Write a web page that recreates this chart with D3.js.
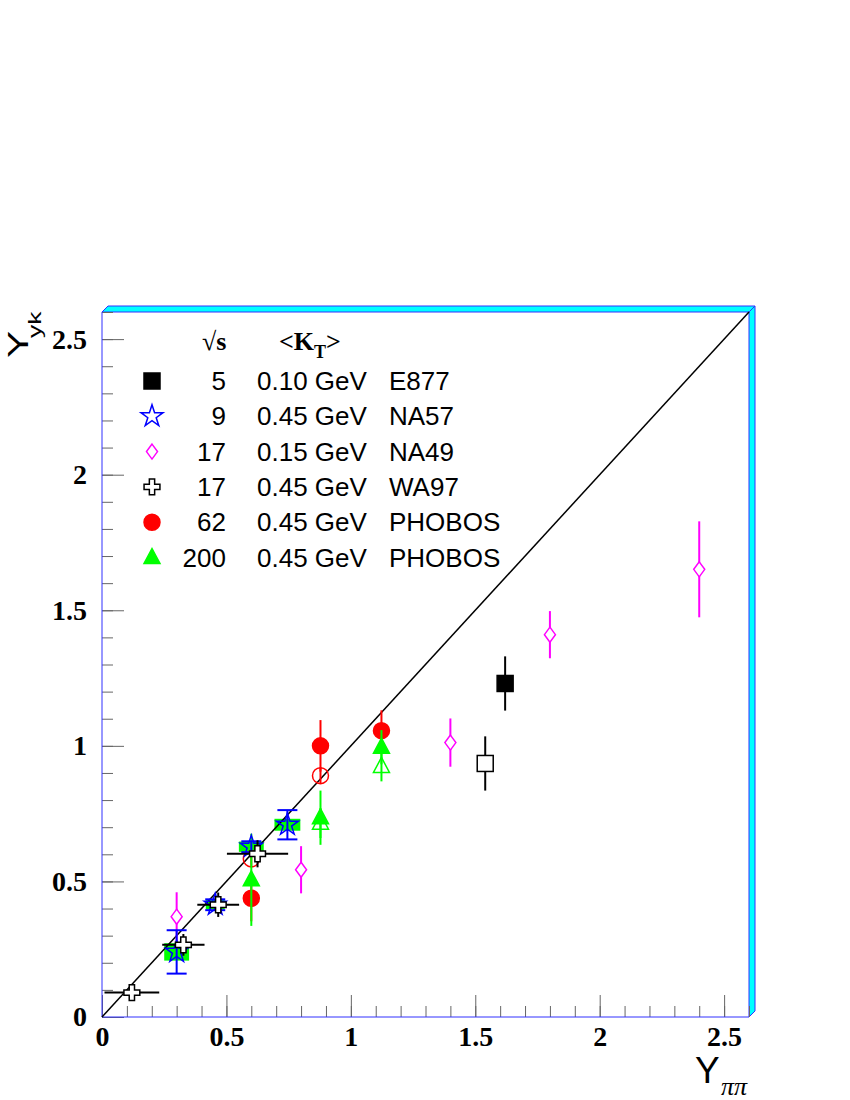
<!DOCTYPE html>
<html>
<head>
<meta charset="utf-8">
<script src="https://cdn.jsdelivr.net/npm/d3@7"></script>
<style>
  body { margin: 0; background: #fff; }
</style>
</head>
<body>
<div id="wrapper"></div>
<script>
// values
const e877X = [1.62], e877Y = [1.23], e877Err = [0.10];
const e877OpenX = [1.54], e877OpenY = [0.935], e877OpenErr = [0.10];

const na57X = [0.30, 0.455, 0.60, 0.745];
const na57Y = [0.24, 0.414, 0.628, 0.709];
const na57Err = [0.08, 0.02, 0.02, 0.054];
// green boxes behind the NA57 stars (half widths)
const boxDx = [0.05, 0.038, 0.05, 0.052];
const boxDy = [0.032, 0.017, 0.019, 0.022];

const na49X = [0.30, 0.80, 1.40, 1.80, 2.40];
const na49Y = [0.37, 0.543, 1.012, 1.41, 1.651];
const na49Err = [0.09, 0.087, 0.089, 0.087, 0.177];

const wa97X = [0.12, 0.327, 0.467, 0.625];
const wa97Y = [0.09, 0.266, 0.414, 0.602];
const wa97ErrX = [0.11, 0.085, 0.084, 0.123];
const wa97ErrY = [0.0, 0.04, 0.045, 0.05];

const pho62X = [0.60, 0.878, 1.123];
const pho62Y = [0.438, 1.0, 1.056];
const pho62Err = [0.085, 0.095, 0.075];
const pho62OpenX = [0.60, 0.878];
const pho62OpenY = [0.583, 0.89];
const pho62OpenErr = [0.03, 0.03];

const pho200X = [0.60, 0.878, 1.123];
const pho200Y = [0.506, 0.735, 0.995];
const pho200Err = [0.17, 0.1, 0.063];
const pho200OpenX = [0.878, 1.123];
const pho200OpenY = [0.715, 0.924];
const pho200OpenErr = [0.055, 0.055];

const legendSqrtS = ["5", "9", "17", "17", "62", "200"];
const legendKt = ["0.10 GeV", "0.45 GeV", "0.15 GeV", "0.45 GeV", "0.45 GeV", "0.45 GeV"];
const legendName = ["E877", "NA57", "NA49", "WA97", "PHOBOS", "PHOBOS"];
const legendKind = ["squareFilled", "star", "diamond", "cross", "circleFilled", "triFilled"];

const xMajor = [0, 0.5, 1, 1.5, 2, 2.5];
const yMajor = [0, 0.5, 1, 1.5, 2, 2.5];

var dimension = {
    width: 850,
    height: 1100,
    margin: { top: 312, left: 102, right: 101, bottom: 83 }
};
dimension.boundedWidth = dimension.width - dimension.margin.left - dimension.margin.right;
dimension.boundedHeight = dimension.height - dimension.margin.top - dimension.margin.bottom;

const svg = d3.select("#wrapper").append("svg")
    .attr("width", dimension.width)
    .attr("height", dimension.height);

const scaleX = d3.scaleLinear()
    .domain([0, 2.6])
    .range([dimension.margin.left, dimension.margin.left + dimension.boundedWidth]);
const scaleY = d3.scaleLinear()
    .domain([0, 2.6])
    .range([dimension.margin.top + dimension.boundedHeight, dimension.margin.top]);

const x0 = scaleX(0), x1 = scaleX(2.6), y0 = scaleY(0), y1 = scaleY(2.6);
const depth = 6;

// cyan 3D-ish frame on top and right
svg.append("path")
    .attr("d", `M${x0},${y1} L${x0 + depth},${y1 - depth} L${x1 + depth},${y1 - depth} L${x1},${y1} Z`)
    .attr("fill", "#00ffff").attr("stroke", "#3030ff").attr("stroke-width", 1);
svg.append("path")
    .attr("d", `M${x1},${y1} L${x1 + depth},${y1 - depth} L${x1 + depth},${y0 - depth} L${x1},${y0} Z`)
    .attr("fill", "#00ffff").attr("stroke", "#3030ff").attr("stroke-width", 1);

// ticks (pointing inward)
const minorTicks = d3.range(0, 2.61, 0.1).map(d => +d.toFixed(1));
function tickGroup(axis, tr) {
    const g = svg.append("g").attr("transform", tr).call(axis);
    g.select(".domain").remove();
    g.selectAll("line").attr("stroke", "#666");
    return g;
}
tickGroup(d3.axisTop(scaleX).tickValues(minorTicks).tickSize(11).tickFormat(""), `translate(0,${y0})`);
tickGroup(d3.axisTop(scaleX).tickValues(xMajor).tickSize(22).tickFormat(""), `translate(0,${y0})`);
tickGroup(d3.axisRight(scaleY).tickValues(minorTicks).tickSize(11).tickFormat(""), `translate(${x0},0)`);
tickGroup(d3.axisRight(scaleY).tickValues(yMajor).tickSize(22).tickFormat(""), `translate(${x0},0)`);

// tick labels
const xl = svg.append("g").attr("transform", `translate(0,${y0})`)
    .call(d3.axisBottom(scaleX).tickValues(xMajor).tickSize(0).tickPadding(9).tickFormat(d => d));
xl.select(".domain").remove();
const yl = svg.append("g").attr("transform", `translate(${x0},0)`)
    .call(d3.axisLeft(scaleY).tickValues(yMajor).tickSize(0).tickPadding(15).tickFormat(d => d));
yl.select(".domain").remove();
svg.selectAll(".tick text")
    .attr("font-family", "'Liberation Serif', 'Times New Roman', serif")
    .attr("font-weight", "bold")
    .attr("font-size", "28px")
    .attr("fill", "#000");

// axis lines
svg.append("line").attr("x1", x0).attr("y1", y0).attr("x2", x0).attr("y2", y1)
    .attr("stroke", "#3030ff").attr("stroke-width", 1);
svg.append("line").attr("x1", x0).attr("y1", y0).attr("x2", x1).attr("y2", y0)
    .attr("stroke", "#3030ff").attr("stroke-width", 1);

// axis titles
const sans = "'Liberation Sans', Arial, sans-serif";
svg.append("text").attr("transform", "translate(28,358) rotate(-90) scale(1.4,1)")
    .attr("font-family", sans).attr("font-size", "29px").text("Y");
svg.append("text").attr("transform", "translate(41,338) rotate(-90) scale(1.4,1)")
    .attr("font-family", sans).attr("font-size", "19px").text("yk");
svg.append("text").attr("x", 695).attr("y", 1083)
    .attr("font-family", sans).attr("font-size", "37px").text("Y");
svg.append("text").attr("x", 721).attr("y", 1095)
    .attr("font-family", "'Liberation Serif', serif").attr("font-style", "italic")
    .attr("font-size", "26px").text("ππ");

// green boxes behind the stars
svg.append("g").selectAll("rect")
    .data(na57X.map((d, i) => ({ x: d, y: na57Y[i], dx: boxDx[i], dy: boxDy[i] })))
    .enter().append("rect")
    .attr("x", d => scaleX(d.x - d.dx))
    .attr("y", d => scaleY(d.y + d.dy))
    .attr("width", d => scaleX(d.x + d.dx) - scaleX(d.x - d.dx))
    .attr("height", d => scaleY(d.y - d.dy) - scaleY(d.y + d.dy))
    .attr("fill", "#00ff00");

// diagonal
svg.append("line")
    .attr("x1", scaleX(0)).attr("y1", scaleY(0))
    .attr("x2", scaleX(2.6)).attr("y2", scaleY(2.6))
    .attr("stroke", "#000").attr("stroke-width", 1.5);

// markers
function mark(g, kind, cx, cy) {
    const t = `translate(${cx},${cy})`;
    if (kind === "squareFilled" || kind === "squareOpen") {
        g.append("rect").attr("x", cx - 8).attr("y", cy - 8).attr("width", 16).attr("height", 16)
            .attr("fill", kind === "squareFilled" ? "#000" : "#fff")
            .attr("stroke", "#000").attr("stroke-width", 1.5);
    } else if (kind === "star") {
        g.append("path").attr("transform", t).attr("d", d3.symbol(d3.symbolStar, 150)())
            .attr("fill", "none").attr("stroke", "#0000ff").attr("stroke-width", 1.5);
    } else if (kind === "diamond") {
        g.append("path").attr("transform", t).attr("d", "M0,-7.5 L5.5,0 L0,7.5 L-5.5,0 Z")
            .attr("fill", "#fff").attr("stroke", "#ff00ff").attr("stroke-width", 1.5);
    } else if (kind === "cross") {
        g.append("path").attr("transform", t).attr("d", d3.symbol(d3.symbolCross, 140)())
            .attr("fill", "#fff").attr("stroke", "#000").attr("stroke-width", 1.5);
    } else if (kind === "circleFilled" || kind === "circleOpen") {
        g.append("circle").attr("cx", cx).attr("cy", cy).attr("r", 8)
            .attr("fill", kind === "circleFilled" ? "#ff0000" : "none")
            .attr("stroke", "#ff0000").attr("stroke-width", 1.5);
    } else if (kind === "triFilled" || kind === "triOpen") {
        g.append("path").attr("transform", t).attr("d", "M0,-9 L8,6 L-8,6 Z")
            .attr("fill", kind === "triFilled" ? "#00ff00" : "none")
            .attr("stroke", "#00ff00").attr("stroke-width", 1.5);
    }
}

const series = [
    { x: na49X, y: na49Y, ey: na49Err, kind: "diamond", color: "#ff00ff" },
    { x: e877OpenX, y: e877OpenY, ey: e877OpenErr, kind: "squareOpen", color: "#000" },
    { x: e877X, y: e877Y, ey: e877Err, kind: "squareFilled", color: "#000" },
    { x: pho62OpenX, y: pho62OpenY, ey: pho62OpenErr, kind: "circleOpen", color: "#ff0000" },
    { x: pho62X, y: pho62Y, ey: pho62Err, kind: "circleFilled", color: "#ff0000" },
    { x: pho200OpenX, y: pho200OpenY, ey: pho200OpenErr, kind: "triOpen", color: "#00ff00" },
    { x: pho200X, y: pho200Y, ey: pho200Err, kind: "triFilled", color: "#00ff00" },
    { x: na57X, y: na57Y, ey: na57Err, kind: "star", color: "#0000ff", caps: true },
    { x: wa97X, y: wa97Y, ey: wa97ErrY, ex: wa97ErrX, kind: "cross", color: "#000" }
];

const plot = svg.append("g");
series.forEach(s => {
    const g = plot.append("g");
    s.x.forEach((xv, i) => {
        const cx = scaleX(xv), cy = scaleY(s.y[i]);
        if (s.ey[i] > 0) {
            g.append("line").attr("x1", cx).attr("x2", cx)
                .attr("y1", scaleY(s.y[i] + s.ey[i])).attr("y2", scaleY(s.y[i] - s.ey[i]))
                .attr("stroke", s.color).attr("stroke-width", 2);
            if (s.caps) {
                [s.y[i] + s.ey[i], s.y[i] - s.ey[i]].forEach(v => {
                    g.append("line").attr("x1", cx - 10).attr("x2", cx + 10)
                        .attr("y1", scaleY(v)).attr("y2", scaleY(v))
                        .attr("stroke", s.color).attr("stroke-width", 2);
                });
            }
        }
        if (s.ex) {
            g.append("line").attr("y1", cy).attr("y2", cy)
                .attr("x1", scaleX(xv - s.ex[i])).attr("x2", scaleX(xv + s.ex[i]))
                .attr("stroke", s.color).attr("stroke-width", 2);
        }
        mark(g, s.kind, cx, cy);
    });
});

// legend
const legend = svg.append("g");
const serifBold = "'Liberation Serif', 'Times New Roman', serif";
const hdr = legend.append("text").attr("x", 202).attr("y", 350)
    .attr("font-family", serifBold).attr("font-size", "26px");
hdr.append("tspan").text("√");
hdr.append("tspan").attr("font-weight", "bold").text("s");
const kt = legend.append("text").attr("x", 279).attr("y", 350)
    .attr("font-family", serifBold).attr("font-size", "26px").attr("font-weight", "bold");
kt.append("tspan").text("<K");
kt.append("tspan").attr("font-size", "18px").attr("dy", 8).text("T");
kt.append("tspan").attr("dy", -8).text(">");

legendName.forEach((name, i) => {
    const cy = 381 + i * 35.3;
    mark(legend, legendKind[i], 152, cy);
    legend.append("text").attr("x", 226).attr("y", cy + 9).attr("text-anchor", "end")
        .attr("font-family", sans).attr("font-size", "26px").text(legendSqrtS[i]);
    legend.append("text").attr("x", 257).attr("y", cy + 9)
        .attr("font-family", sans).attr("font-size", "26px").text(legendKt[i]);
    legend.append("text").attr("x", 389).attr("y", cy + 9)
        .attr("font-family", sans).attr("font-size", "26px").text(name);
});
</script>
</body>
</html>
